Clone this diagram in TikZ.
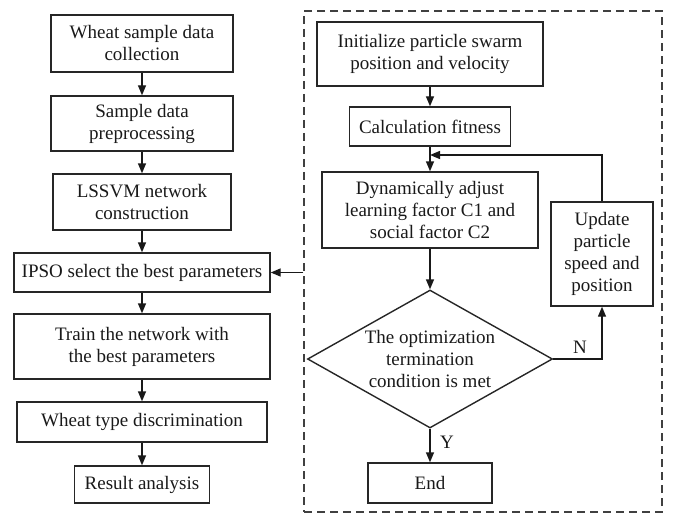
\documentclass[tikz,border=0pt]{standalone}
\usepackage{fontspec}
\setmainfont{Liberation Serif}
\usetikzlibrary{arrows.meta,shapes.geometric}
\begin{document}
\begin{tikzpicture}[x=1pt,y=-1pt,
  every node/.style={font=\fontsize{19}{22}\selectfont, text=black!90},
  box/.style={draw=black!85, line width=1.4pt, rectangle, inner sep=0pt, align=center},
  conn/.style={draw=black!90, line width=1.4pt, -{Triangle[length=10pt,width=8pt]}},
  line/.style={draw=black!90, line width=1.4pt}]
\useasboundingbox (0,0) rectangle (676,513);
% dashed group
\node[draw=black!75, line width=1.4pt, dash pattern=on 8pt off 5pt, minimum width=358pt, minimum height=501pt, inner sep=0pt] (grp) at (483,261.5) {};
% left column
\node[box, minimum width=182pt, minimum height=57pt] (b1) at (142,43.5) {Wheat sample data\\collection};
\node[box, minimum width=182pt, minimum height=55pt] (b2) at (142,123.5) {Sample data\\preprocessing};
\node[box, minimum width=178pt, minimum height=56pt] (b3) at (142,202) {LSSVM network\\construction};
\node[box, minimum width=256pt, minimum height=39pt] (b4) at (142,272.5) {IPSO select the best parameters};
\node[box, minimum width=256pt, minimum height=65pt] (b5) at (142,346.5) {Train the network with\\the best parameters};
\node[box, minimum width=250pt, minimum height=40pt] (b6) at (142,422) {Wheat type discrimination};
\node[box, minimum width=135pt, minimum height=37pt] (b7) at (142,484.5) {Result analysis};
\draw[conn] (b1) -- (b2);
\draw[conn] (b2) -- (b3);
\draw[conn] (b3) -- (b4);
\draw[conn] (b4) -- (b5);
\draw[conn] (b5) -- (b6);
\draw[conn] (b6) -- (b7);
% right column
\node[box, minimum width=226pt, minimum height=64pt] (r1) at (430,54) {Initialize particle swarm\\position and velocity};
\node[box, minimum width=161pt, minimum height=39pt] (r2) at (430,126.5) {Calculation fitness};
\node[box, minimum width=216pt, minimum height=76pt] (r3) at (430,210) {Dynamically adjust\\learning factor C1 and\\social factor C2};
\node[box, minimum width=102pt, minimum height=104pt] (up) at (602,254) {Update\\particle\\speed and\\position};
\node[draw=black!85, line width=1.4pt, shape=diamond, aspect=1.78, inner sep=0pt, minimum width=245pt, minimum height=138pt, align=center] (dia) at (430,359) {The optimization\\termination\\condition is met};
\node[box, minimum width=124pt, minimum height=40pt] (end) at (430,483) {End};
\coordinate (fb) at (430,155);
\draw[conn] (r1) -- (r2);
\draw[conn] (r2) -- (r3);
\draw[conn] (up.north) |- (fb);
\draw[conn] (r3) -- (dia);
\draw[conn] (dia.east) -| (up.south);
\draw[conn] (dia.south) -- (end);
\draw[conn] (grp.west |- b4.east) -- (b4.east);
\node (n) at (580,347) {N};
\node (y) at (447,442) {Y};
\end{tikzpicture}
\end{document}
